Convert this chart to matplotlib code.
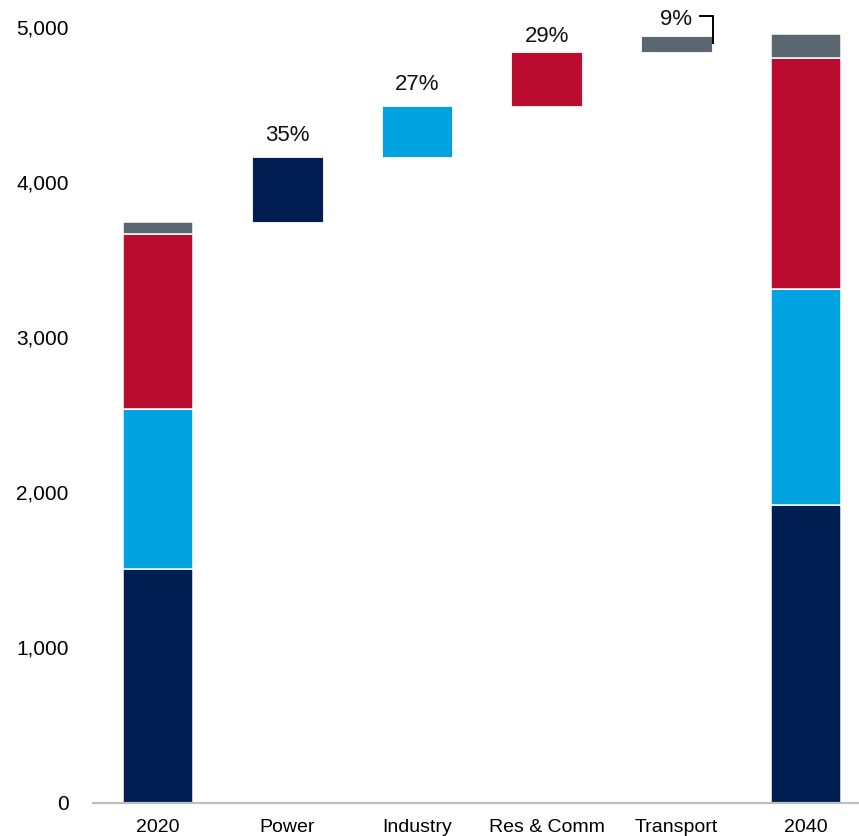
import matplotlib
matplotlib.use("Agg")
import matplotlib.pyplot as plt
from matplotlib.ticker import FuncFormatter

plt.rcParams['font.family'] = ['Liberation Sans', 'DejaVu Sans']

# Data
categories = ["2020", "Power", "Industry", "Res & Comm", "Transport", "2040"]
sectors = ["Power", "Industry", "Res & Comm", "Transport"]
colors = ["#001E52", "#00A3E0", "#BA0C2F", "#5B6770"]

base_2020 = [1503, 1032, 1129, 76]
base_2040 = [1917, 1391, 1488, 157]
increments = [418, 332, 345, 103]
share_labels = ["35%", "27%", "29%", "9%"]

fig = plt.figure(figsize=(8.59, 8.36), dpi=100)
W, H = 859, 836
y0_px = 802.5
ax = fig.add_axes([93 / W, (H - y0_px) / H, 1 - 93 / W, y0_px / H])
ax.set_xlim(-0.5, 5.41)
ax.set_ylim(0, 802.5 / 155.16 * 1000)

width = 0.544

# Stacked totals at both ends
for xi, stack in ((0, base_2020), (5, base_2040)):
    bottom = 0
    for val, col in zip(stack, colors):
        ax.bar(xi, val, width, bottom=bottom, color=col,
               edgecolor="white", linewidth=1.1)
        bottom += val

# Floating increments
level = sum(base_2020)
tops = []
bottoms = []
for i, (inc, col) in enumerate(zip(increments, colors)):
    ax.bar(i + 1, inc, width, bottom=level, color=col,
           edgecolor="white", linewidth=0.6)
    bottoms.append(level)
    level += inc
    tops.append(level)

# Share labels above the floating bars
for i, off in zip(range(3), (16, 16, 10)):
    ax.annotate(share_labels[i], (i + 1, tops[i]), xytext=(0, off),
                textcoords="offset pixels", ha="center", va="baseline",
                fontsize=16, color="#111111")

# Transport label with a bracket leader
xt = 4
ax.annotate(share_labels[3], (xt, tops[3]), xytext=(0, 11),
            textcoords="offset pixels", ha="center", va="baseline",
            fontsize=16, color="#111111")
right = xt + width / 2 + 0.01
mid = (tops[3] + bottoms[3]) / 2
top_px = ax.transData.transform((right, tops[3]))[1] + 20
bracket_y = ax.transData.inverted().transform((0, top_px))[1]
ax.plot([xt + 0.176, right, right], [bracket_y, bracket_y, mid],
        color="black", lw=1.4, solid_joinstyle="miter",
        solid_capstyle="butt", clip_on=False)

ax.set_xticks(range(len(categories)))
ax.set_xticklabels(categories, fontsize=14)
ax.set_yticks([0, 1000, 2000, 3000, 4000, 5000])
ax.yaxis.set_major_formatter(FuncFormatter(lambda v, p: f"{int(v):,}"))
ax.tick_params(axis="y", length=0, pad=17.5, labelsize=15)
ax.tick_params(axis="x", length=0, pad=12)

for s in ("top", "right", "left"):
    ax.spines[s].set_visible(False)
ax.spines["bottom"].set_color("#BFBFBF")
ax.spines["bottom"].set_linewidth(1.6)
ax.patch.set_alpha(0)

fig.savefig("out.png", dpi=100)
